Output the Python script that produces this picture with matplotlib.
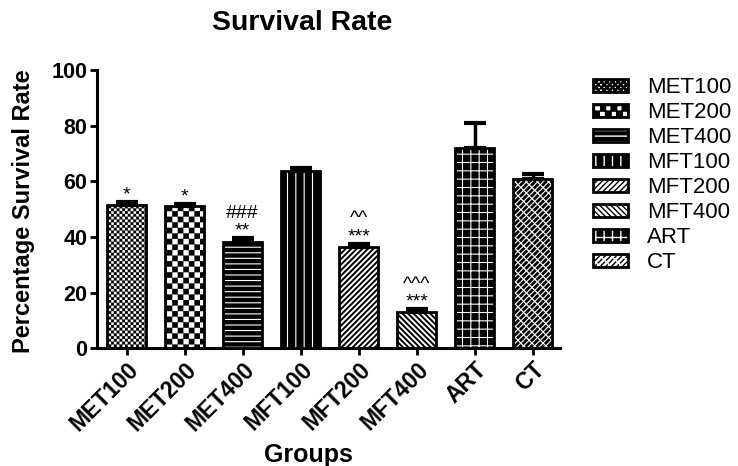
import numpy as np
import matplotlib
matplotlib.use('Agg')
import matplotlib.pyplot as plt
from matplotlib import hatch as mhatch
from matplotlib.path import Path

# data
groups = ['MET100', 'MET200', 'MET400', 'MFT100', 'MFT200', 'MFT400', 'ART', 'CT']
means = [51.5, 51.0, 38.3, 63.8, 36.4, 12.9, 72.0, 60.9]
sems = [1.2, 1.0, 1.2, 1.0, 1.1, 1.1, 8.8, 1.8]
stars = ['*', '*', '**', '', '***', '***', '', '']
versus = ['', '', '###', '', '^^', '^^^', '', '']
yticks = [0, 20, 40, 60, 80, 100]

# fill styles: base colour + hatch layers (pattern, colour, linewidth)
faces = ['white', 'white', 'black', 'black', 'white', 'white', 'black', 'white']
hatch_layers = [
    [('OOOOOO', 'black', 0.1)],
    [('OOO', 'black', 0.1)],
    [('---', 'white', 0.8)],
    [('||', 'white', 0.8)],
    [('//////', 'black', 1.4)],
    [('\\' * 6, 'black', 1.4)],
    [('++', 'white', 0.8)],
    [('//////', 'black', 2.0), ('\\' * 3, 'white', 0.9)],
]


# checkerboard hatch, used in place of the big-circle 'O' hatch
class Checker(mhatch.HatchPatternBase):
    def __init__(self, hatch, density):
        self.n = hatch.count('O') * density
        self.num_vertices = (self.n * self.n // 2) * 5

    def set_vertices_and_codes(self, vertices, codes):
        s = 1.0 / self.n
        square = np.array([[0, 0], [s, 0], [s, s], [0, s], [0, 0]])
        cells = [(i, j) for i in range(self.n) for j in range(self.n) if (i + j) % 2 == 0]
        vertices[:] = np.concatenate([square + [i * s, j * s] for i, j in cells])
        codes[:] = np.tile([Path.MOVETO, Path.LINETO, Path.LINETO, Path.LINETO,
                            Path.CLOSEPOLY], len(cells))


mhatch._hatch_types[mhatch._hatch_types.index(mhatch.LargeCircles)] = Checker

plt.rcParams['font.family'] = ['Liberation Sans', 'DejaVu Sans']

fig = plt.figure(figsize=(7.38, 4.66), dpi=100)
ax = fig.add_axes([97 / 738, 1 - 348.3 / 466, 463 / 738, 278.3 / 466])

x = np.arange(len(groups))
width = 0.67
handles = []
for i in range(len(groups)):
    parts = [ax.bar(x[i], means[i], width, color=faces[i], linewidth=0, zorder=2)]
    for pattern, col, lw in hatch_layers[i]:
        with plt.rc_context({'hatch.linewidth': lw}):
            b = ax.bar(x[i], means[i], width, facecolor='none', edgecolor=col,
                       linewidth=0, hatch=pattern, zorder=3)
        for p in b:
            if hasattr(p, 'set_hatch_linewidth'):
                p.set_hatch_linewidth(lw)
            p._hatch_linewidth = lw
        parts.append(b)
    parts.append(ax.bar(x[i], means[i], width, facecolor='none', edgecolor='black',
                        linewidth=2, zorder=4))
    handles.append(tuple(parts))

ax.errorbar(x, means, yerr=[np.zeros(len(sems)), sems], fmt='none', ecolor='black',
            elinewidth=2.5, capsize=8, capthick=3, zorder=5)

tops = np.array(means) + np.array(sems)
for i in range(len(groups)):
    if stars[i]:
        ax.text(x[i], tops[i] + 2.5, stars[i], ha='center', va='center', fontsize=14)
    if versus[i]:
        ax.text(x[i], tops[i] + 9.0, versus[i], ha='center', va='center', fontsize=14)

ax.set_xlim(-0.51, 7.47)
ax.set_ylim(0, 100)
ax.set_yticks(yticks)
ax.set_xticks(x)
ax.set_xticklabels(groups, rotation=45, ha='right', rotation_mode='anchor')
for lab in ax.get_yticklabels():
    lab.set_fontweight('bold')
    lab.set_fontsize(15.5)
for lab in ax.get_xticklabels():
    lab.set_fontweight('bold')
    lab.set_fontsize(16.5)
ax.tick_params(width=2, length=5, pad=2)
for side in ['top', 'right']:
    ax.spines[side].set_visible(False)
for side in ['left', 'bottom']:
    ax.spines[side].set_linewidth(2.2)

fig.text(302 / 738, 1 - 23 / 466, 'Survival Rate', ha='center', va='center',
         fontsize=20.5, fontweight='bold')
fig.text(308 / 738, 1 - 455 / 466, 'Groups', ha='center', va='center',
         fontsize=18, fontweight='bold')
fig.text(24 / 738, 1 - 211 / 466, 'Percentage Survival Rate', ha='center', va='center',
         rotation=90, fontsize=17, fontweight='bold')

fig.legend(handles, groups, loc='upper left', bbox_to_anchor=(593 / 738, 1 - 77 / 466),
           frameon=False, fontsize=16, handlelength=1.58, handleheight=0.54,
           handletextpad=0.85, labelspacing=0.18, borderpad=0, borderaxespad=0)

fig.savefig('out.png', dpi=100)
